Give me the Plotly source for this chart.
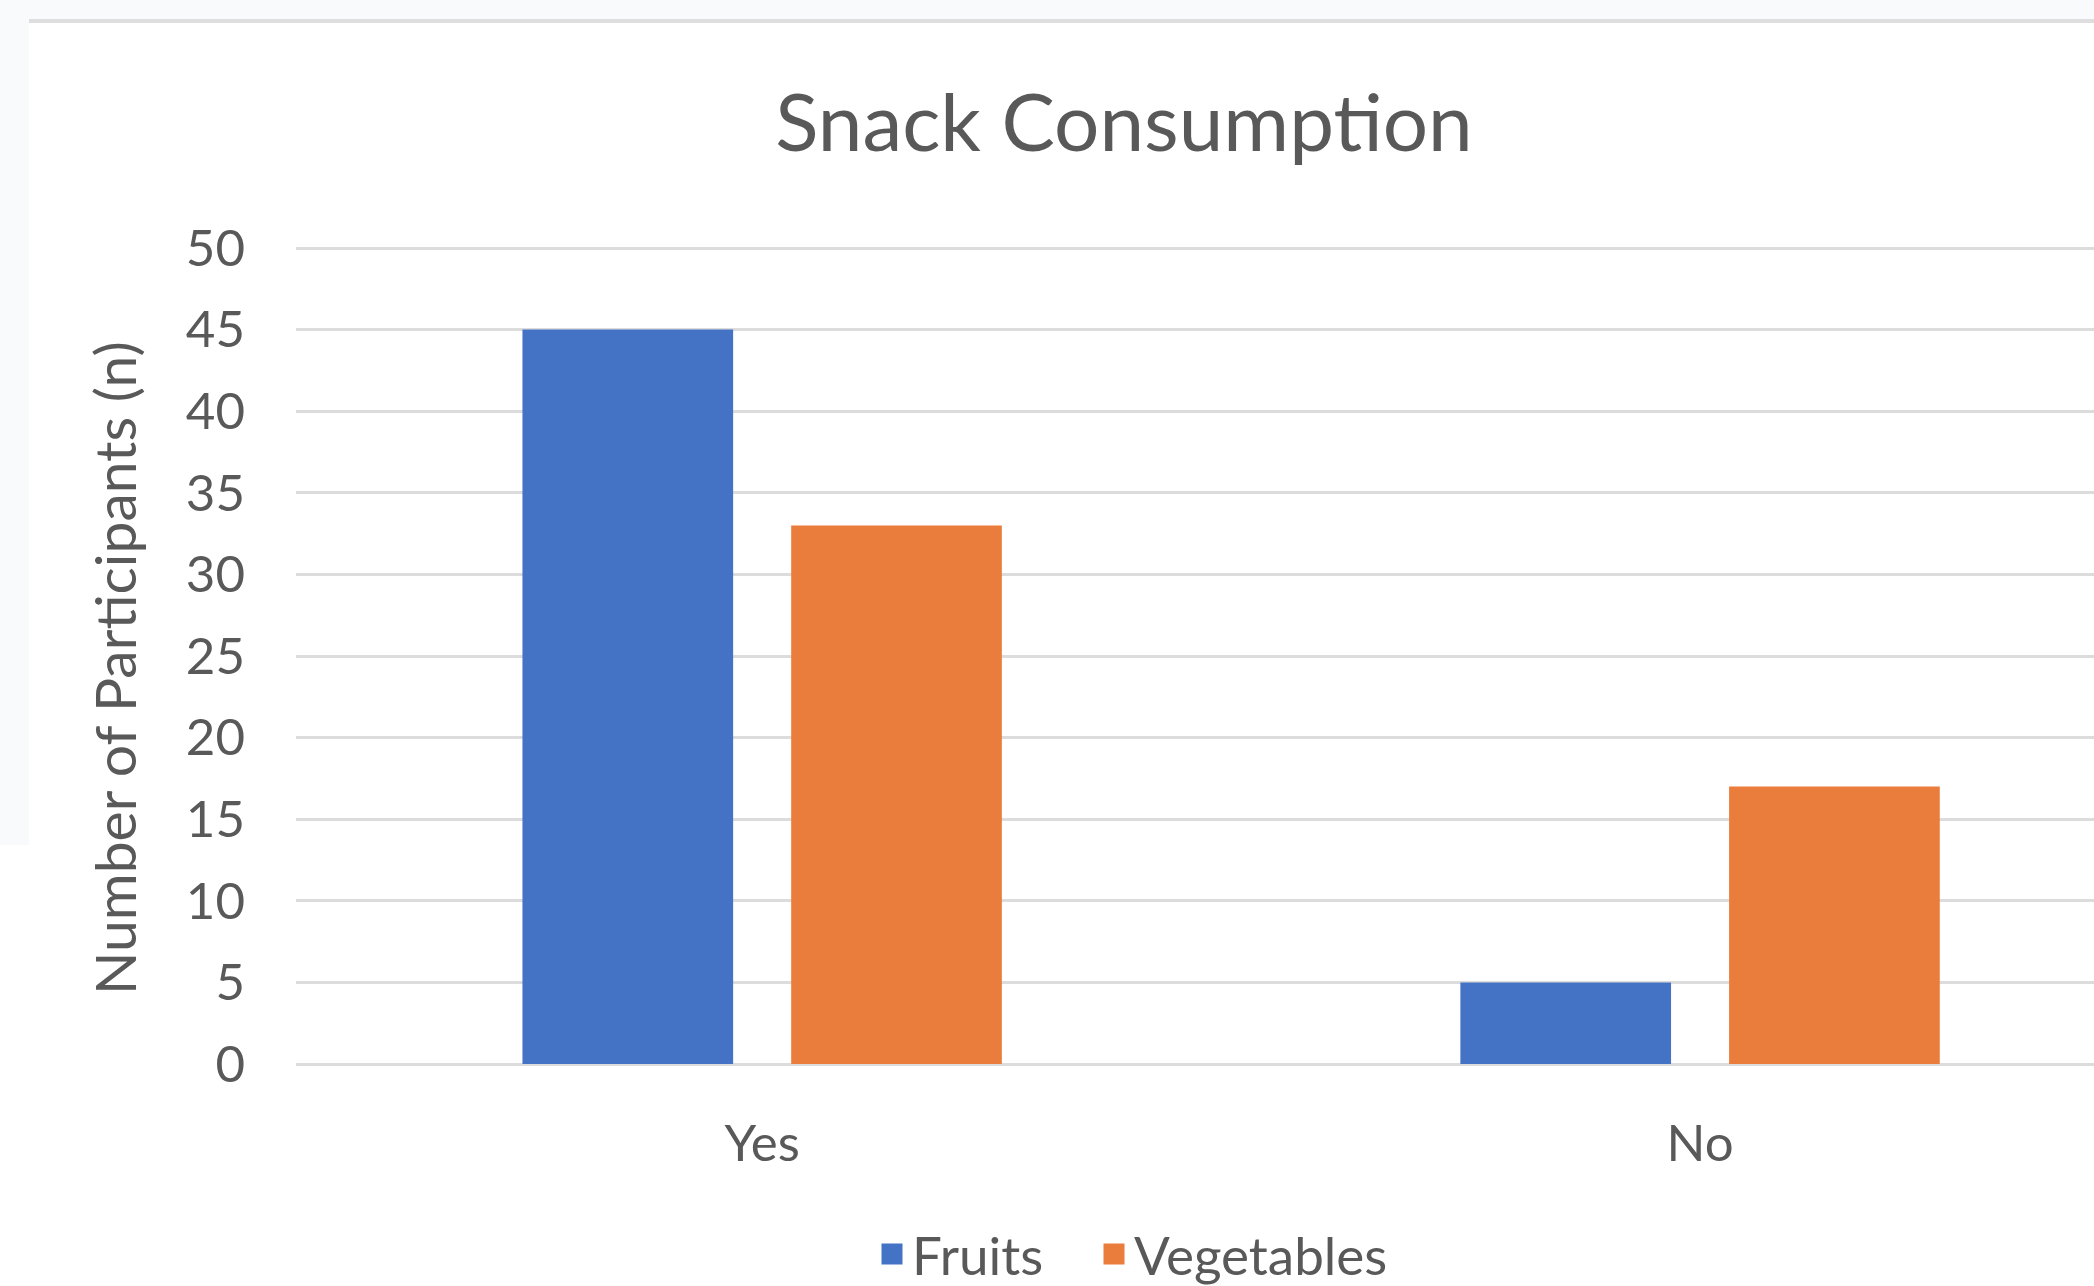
import plotly.graph_objects as go

# ---- data ----
categories = ["Yes", "No"]
fruits = [45, 5]
vegetables = [33, 17]
series_names = ["Fruits", "Vegetables"]
y_ticks = [0, 5, 10, 15, 20, 25, 30, 35, 40, 45, 50]
y_title = "Number of Participants (n)"

# ---- style ----
W, H = 2094, 1286
Y50_PX, Y0_PX = 248, 1064          # pixel rows of the 50 and 0 gridlines
ML, MR, MT, MB = 296, 0, 244, H - Y0_PX
PW, PH = W - ML - MR, H - MT - MB
UNIT = (Y0_PX - Y50_PX) / 50.0
Y_TOP = 50 + (Y50_PX - MT) / UNIT
BLUE = "#4472C4"
ORANGE = "#EB7D3C"
TXT = "#595959"
GRID = "#dcdcdc"
FONT = "Lato"


def px_x(px):
    return (px - ML) / PW


def px_y(py):
    return (H - MB - py) / PH


fig = go.Figure()
fig.add_trace(go.Bar(x=categories, y=fruits, name=series_names[0],
                     marker=dict(color=BLUE, line=dict(width=0)),
                     showlegend=False, legendgroup="f"))
fig.add_trace(go.Bar(x=categories, y=vegetables, name=series_names[1],
                     marker=dict(color=ORANGE, line=dict(width=0)),
                     showlegend=False, legendgroup="v"))
# legend entries (larger square swatches), one per legend box for exact spacing
for nm, col, grp, lg in [(series_names[0], BLUE, "f", "legend"),
                         (series_names[1], ORANGE, "v", "legend2")]:
    fig.add_trace(go.Scatter(x=[None], y=[None], mode="markers", name=nm,
                             legendgroup=grp, legend=lg,
                             marker=dict(symbol="square", size=16, color=col,
                                         line=dict(color=col, width=5))))

shapes = [
    # light outer background strips
    dict(type="rect", xref="paper", yref="paper", x0=px_x(0), x1=px_x(W),
         y0=px_y(20), y1=px_y(0), fillcolor="#f8fafc", line=dict(width=0), layer="below"),
    dict(type="rect", xref="paper", yref="paper", x0=px_x(0), x1=px_x(29),
         y0=px_y(845), y1=px_y(20), fillcolor="#f8fafc", line=dict(width=0), layer="below"),
    # chart border line at top
    dict(type="line", xref="paper", yref="paper", x0=px_x(29), x1=px_x(W),
         y0=px_y(21), y1=px_y(21), line=dict(color="#dedede", width=4)),
]

legend_common = dict(orientation="h", xref="container", yref="container",
                     xanchor="left", y=1 - 1254 / H, yanchor="middle",
                     font=dict(family=FONT, size=53, color=TXT),
                     bgcolor="rgba(0,0,0,0)", itemclick=False, itemdoubleclick=False)

fig.update_layout(
    width=W, height=H, autosize=False,
    margin=dict(l=ML, r=MR, t=MT, b=MB, pad=0),
    paper_bgcolor="white", plot_bgcolor="white",
    font=dict(family=FONT, color=TXT, size=50),
    title=dict(text="Snack Consumption", x=1124 / W, xanchor="center",
               y=1 - 123 / H, yanchor="middle", xref="container", yref="container",
               font=dict(family=FONT, size=80, color=TXT)),
    barmode="group", bargap=0.427, bargroupgap=0.216,
    showlegend=True,
    legend=dict(x=872 / W, **legend_common),
    legend2=dict(x=1094 / W, **legend_common),
    shapes=shapes,
    annotations=[dict(text=y_title, textangle=-90, showarrow=False,
                      xref="paper", yref="paper", x=px_x(114), y=px_y(668),
                      xanchor="center", yanchor="middle",
                      font=dict(family=FONT, size=57, color=TXT))],
)
fig.update_xaxes(range=[-0.497, 1.42], showgrid=False, zeroline=False, showline=False,
                 ticks="", ticklabelstandoff=45,
                 tickfont=dict(family=FONT, size=51, color=TXT), fixedrange=True)
fig.update_yaxes(range=[0, Y_TOP], tickvals=y_ticks, showgrid=True, gridcolor=GRID, gridwidth=3,
                 zeroline=True, zerolinecolor=GRID, zerolinewidth=3, showline=False,
                 ticks="", ticklabelstandoff=50,
                 tickfont=dict(family=FONT, size=51, color=TXT),
                 fixedrange=True)

fig.write_html("out.html")
